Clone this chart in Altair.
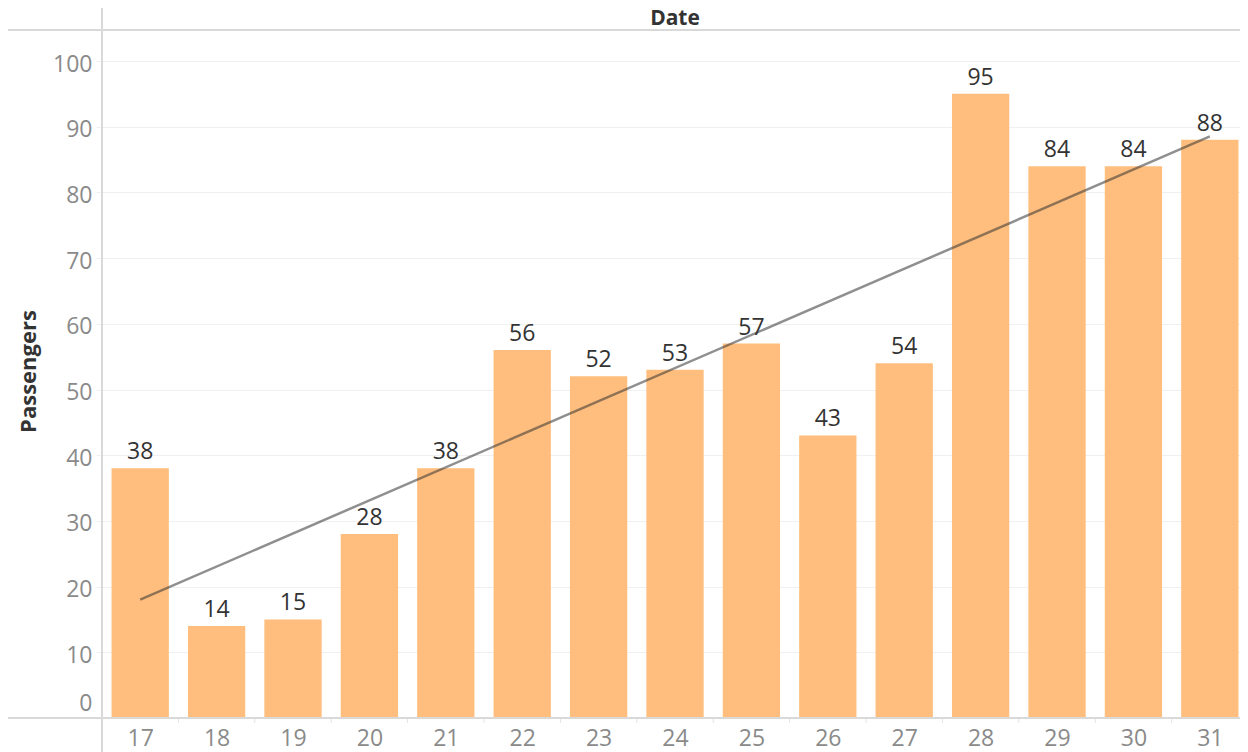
import altair as alt
import pandas as pd

# ---- data ----
days = [17, 18, 19, 20, 21, 22, 23, 24, 25, 26, 27, 28, 29, 30, 31]
passengers = [38, 14, 15, 28, 38, 56, 52, 53, 57, 43, 54, 95, 84, 84, 88]
y_ticks = [0, 10, 20, 30, 40, 50, 60, 70, 80, 90, 100]
header_text = ["Date"]
y_title = "Passengers"

df = pd.DataFrame({"day": days, "passengers": passengers})

W, H = 1138, 688
FONT = "Open Sans"
BAR = "#FFBE7D"
LINE = "#d9d9d9"
GRID = "#f0f0f0"
LABEL = "#8a8a8a"
DARK = "#333333"

xscale = alt.Scale(domain=[16.5, 31.395], nice=False, zero=False)
yscale = alt.Scale(domain=[0, 104.72], nice=False, zero=True)

xaxis = alt.Axis(values=days, format="d", ticks=False, tickSize=0, domain=False,
                 grid=False, labelFont=FONT, labelFontSize=23, labelColor=LABEL,
                 labelPadding=9, labelFlush=False, title=None)
yaxis = alt.Axis(values=y_ticks, grid=True, gridColor=GRID, gridWidth=1,
                 domain=False, ticks=True, tickColor=GRID, tickSize=6,
                 labelFont=FONT, labelFontSize=23, labelColor=LABEL,
                 labelPadding=4, labelFlush=False,
                 labelOffset={"condition": {"test": "datum.value === 0", "value": -15}, "value": 3},
                 title=y_title, titleFont=FONT, titleFontSize=22, titleFontWeight="bold",
                 titleColor=DARK, titleAngle=270, titleX=-67, titleY=341,
                 titleBaseline="alphabetic", titleAlign="center")

base = alt.Chart(df)

bars = base.transform_calculate(
    x0="datum.day - 0.375", x1="datum.day + 0.375"
).mark_bar(color=BAR).encode(
    x=alt.X("x0:Q", scale=xscale, axis=xaxis),
    x2="x1:Q",
    y=alt.Y("passengers:Q", scale=yscale, axis=yaxis),
    y2=alt.datum(0),
)

labels = base.mark_text(font=FONT, fontSize=23, color=DARK, baseline="alphabetic",
                        align="center", dy=-9).encode(
    x=alt.X("day:Q", scale=xscale),
    y=alt.Y("passengers:Q", scale=yscale),
    text="passengers:Q",
)

trend = base.transform_regression("day", "passengers", method="linear").mark_line(
    color=DARK, opacity=0.55, strokeWidth=2.5
).encode(
    x=alt.X("day:Q", scale=xscale),
    y=alt.Y("passengers:Q", scale=yscale),
)

separators = base.transform_filter("datum.day < 31").transform_calculate(
    sep="datum.day + 0.5"
).mark_rule(color="#e4e4e4", strokeWidth=1).encode(
    x=alt.X("sep:Q", scale=xscale),
    y=alt.value(H),
    y2=alt.value(H + 5),
)

one = alt.Data(values=[{}])
header_line = alt.Chart(one).mark_rule(color=LINE, strokeWidth=2).encode(
    x=alt.value(-100), x2=alt.value(W + 20), y=alt.value(0))
bottom_line = alt.Chart(one).mark_rule(color=LINE, strokeWidth=2).encode(
    x=alt.value(-100), x2=alt.value(W + 20), y=alt.value(H))
left_line = alt.Chart(one).mark_rule(color=LINE, strokeWidth=2).encode(
    x=alt.value(0), y=alt.value(-30), y2=alt.value(H + 40))

header = alt.Chart(alt.Data(values=[{"t": t} for t in header_text])).mark_text(
    font=FONT, fontSize=21, fontWeight="bold", color=DARK,
    align="center", baseline="middle"
).encode(x=alt.value(573), y=alt.value(-11.3), text="t:N")

chart = alt.layer(
    bars, separators, header_line, bottom_line, left_line, trend, labels, header
).properties(
    width=W, height=H,
    autosize=alt.AutoSizeParams(type="none"),
    padding={"left": 94, "top": 22, "right": 0, "bottom": 34},
).configure_view(strokeWidth=0).configure(background="white")

chart.save("out.html", embed_options={"renderer": "svg", "actions": False})
